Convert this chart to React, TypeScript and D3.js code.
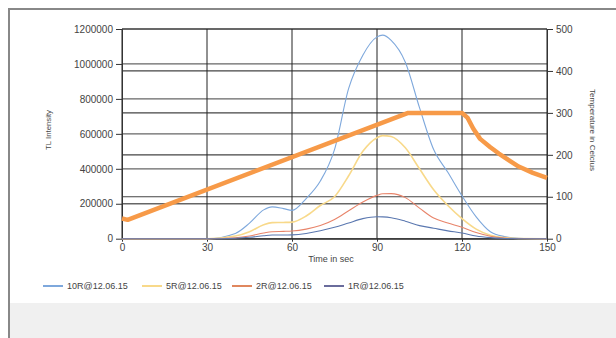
import React, { useEffect, useRef } from 'react'
import * as d3 from 'd3'

// sample times (sec) for the TL curves
const times = [0, 30, 40, 45, 50, 53, 57, 60, 65, 70, 75, 80, 85, 90, 92, 95, 100, 105, 110, 115, 120, 125, 130, 135, 140, 150]
const tenR = [0, 0, 30000, 89000, 165000, 182000, 172000, 162000, 230000, 330000, 510000, 860000, 1050000, 1155000, 1165000, 1135000, 1010000, 750000, 510000, 380000, 245000, 125000, 40000, 12000, 3000, 0]
const fiveR = [0, 0, 15000, 40000, 80000, 92000, 93000, 95000, 130000, 190000, 240000, 360000, 500000, 578000, 590000, 585000, 520000, 400000, 280000, 190000, 115000, 55000, 20000, 6000, 1000, 0]
const twoR = [0, 0, 5000, 15000, 33000, 40000, 42000, 44000, 55000, 75000, 110000, 160000, 210000, 248000, 257000, 258000, 235000, 175000, 118000, 90000, 65000, 35000, 14000, 4000, 1000, 0]
const oneR = [0, 0, 3000, 8000, 17000, 21000, 21000, 22000, 30000, 45000, 65000, 90000, 115000, 126000, 125000, 120000, 100000, 75000, 60000, 45000, 33000, 15000, 6000, 1500, 0, 0]

// temperature profile (right axis)
const tempTimes = [0, 2, 101, 120, 122, 124, 126.4, 130, 133, 137, 140, 145, 150]
const tempValues = [48, 45, 300, 300, 288, 262, 238, 218, 203, 185, 172, 157, 145]

const seriesNames = ['10R@12.06.15', '5R@12.06.15', '2R@12.06.15', '1R@12.06.15']
const seriesColors = ['#7ea8dc', '#f8d98a', '#e8846a', '#5b78b0']
const legendColors = ['#7ea8dc', '#f8d98a', '#e0875e', '#6a6c9c']

const intensityTicks = [0, 200000, 400000, 600000, 800000, 1000000, 1200000]
const tempTicks = [0, 100, 200, 300, 400, 500]
const timeTicks = [0, 30, 60, 90, 120, 150]

const W = 616
const H = 338
const font = '"Liberation Sans", Arial, sans-serif'

export default function App() {
  const ref = useRef<SVGSVGElement>(null)

  useEffect(() => {
    const svg = d3.select(ref.current)
    svg.selectAll('*').remove()

    const left = 122, right = 547, top = 29, bottom = 238.7

    const x = d3.scaleLinear().domain([0, 150]).range([left, right])
    const yL = d3.scaleLinear().domain([0, 1200000]).range([bottom, top])
    const yR = d3.scaleLinear().domain([0, 500]).range([bottom, top])

    // frame
    svg.append('rect').attr('x', 9).attr('y', 9).attr('width', W).attr('height', H)
      .attr('fill', '#fff').attr('stroke', '#888').attr('stroke-width', 2)
    svg.append('rect').attr('x', 10).attr('y', 303).attr('width', W).attr('height', H)
      .attr('fill', '#f0f0f0')

    // grid
    const grid = svg.append('g')
    grid.selectAll('.gl').data(intensityTicks).enter().append('line')
      .attr('x1', left).attr('x2', right)
      .attr('y1', d => yL(d)).attr('y2', d => yL(d))
      .attr('stroke', '#666').attr('stroke-width', 1.3)
    grid.selectAll('.gr').data(tempTicks).enter().append('line')
      .attr('x1', left).attr('x2', right)
      .attr('y1', d => yR(d)).attr('y2', d => yR(d))
      .attr('stroke', '#444').attr('stroke-width', 1.2)
    grid.selectAll('.gv').data(timeTicks).enter().append('line')
      .attr('x1', d => x(d)).attr('x2', d => x(d))
      .attr('y1', top).attr('y2', bottom)
      .attr('stroke', '#222').attr('stroke-width', 1)

    // axes
    const styleAxis = (g: d3.Selection<SVGGElement, unknown, null, undefined>) => {
      g.selectAll('path').attr('stroke', '#333')
      g.selectAll('line').attr('stroke', '#333')
      g.selectAll('text').attr('fill', '#444').style('font-family', font).style('font-size', '10px')
    }
    svg.append('g').attr('transform', `translate(${left},0)`)
      .call(d3.axisLeft(yL).tickValues(intensityTicks).tickSize(6).tickSizeOuter(0).tickPadding(3).tickFormat(d3.format('d')))
      .call(styleAxis)
    svg.append('g').attr('transform', `translate(${right},0)`)
      .call(d3.axisRight(yR).tickValues(tempTicks).tickSize(6).tickSizeOuter(0).tickPadding(3))
      .call(styleAxis)
    svg.append('g').attr('transform', `translate(0,${bottom})`)
      .call(d3.axisBottom(x).tickValues(timeTicks).tickSize(3).tickSizeOuter(0).tickPadding(2))
      .call(styleAxis)

    // TL curves
    const series = [tenR, fiveR, twoR, oneR]
    const line = d3.line<number>()
      .x((_, i) => x(times[i]))
      .y(d => yL(d))
      .curve(d3.curveMonotoneX)
    series.forEach((s, i) => {
      svg.append('path').datum(s)
        .attr('d', line)
        .attr('fill', 'none')
        .attr('stroke', seriesColors[i])
        .attr('stroke-width', i === 1 ? 1.6 : 1.1)
    })

    // temperature
    const tLine = d3.line<number>()
      .x((_, i) => x(tempTimes[i]))
      .y(d => yR(d))
    svg.append('path').datum(tempValues)
      .attr('d', tLine)
      .attr('fill', 'none')
      .attr('stroke', '#f79a48')
      .attr('stroke-width', 4.5)
      .attr('stroke-linejoin', 'round')

    // axis titles
    svg.append('text').attr('x', 331).attr('y', 262).attr('text-anchor', 'middle')
      .style('font-family', font).style('font-size', '9px').attr('fill', '#444').text('Time in sec')
    svg.append('text').attr('transform', 'translate(51,130) rotate(-90)').attr('text-anchor', 'middle')
      .style('font-family', font).style('font-size', '7.8px').attr('fill', '#444').text('TL Intensity')
    svg.append('text').attr('transform', 'translate(590,130) rotate(90)').attr('text-anchor', 'middle')
      .style('font-family', font).style('font-size', '8px').attr('fill', '#444').text('Temperature in Celcius')

    // legend
    const legendX = [43, 142, 232, 324]
    const lg = svg.append('g')
    seriesNames.forEach((name, i) => {
      lg.append('line').attr('x1', legendX[i]).attr('x2', legendX[i] + 20)
        .attr('y1', 286).attr('y2', 286)
        .attr('stroke', legendColors[i]).attr('stroke-width', 2)
      lg.append('text').attr('x', legendX[i] + 24).attr('y', 289)
        .style('font-family', font).style('font-size', '9px').attr('fill', '#444').text(name)
    })
  }, [])

  return <svg ref={ref} width={W} height={H} style={{ position: 'absolute', left: 0, top: 0 }} />
}
